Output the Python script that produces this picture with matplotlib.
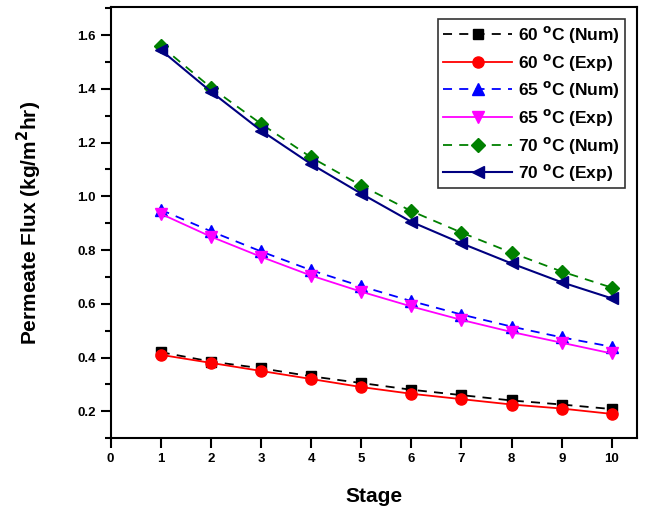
import matplotlib
matplotlib.use('Agg')
import matplotlib.pyplot as plt
from matplotlib.ticker import MultipleLocator

plt.rcParams['font.family'] = ['Liberation Sans', 'DejaVu Sans']
plt.rcParams['font.weight'] = 'bold'

stage = [1, 2, 3, 4, 5, 6, 7, 8, 9, 10]

# flux values
num_60 = [0.42, 0.385, 0.36, 0.33, 0.305, 0.28, 0.26, 0.24, 0.225, 0.208]
exp_60 = [0.41, 0.38, 0.35, 0.32, 0.29, 0.265, 0.245, 0.225, 0.21, 0.19]
num_65 = [0.95, 0.87, 0.795, 0.725, 0.665, 0.61, 0.56, 0.515, 0.475, 0.44]
exp_65 = [0.935, 0.85, 0.775, 0.705, 0.645, 0.59, 0.54, 0.495, 0.455, 0.415]
num_70 = [1.56, 1.405, 1.27, 1.145, 1.04, 0.945, 0.865, 0.79, 0.72, 0.66]
exp_70 = [1.545, 1.39, 1.245, 1.12, 1.01, 0.905, 0.825, 0.75, 0.68, 0.62]

fig = plt.figure(figsize=(6.45, 5.13), dpi=100)
ax = fig.add_axes([0.1715, 0.146, 0.816, 0.8405])

dash = (0, (5, 4))
ax.plot(stage, num_60, linestyle=dash, color='black', marker='s', ms=7, lw=1.3, label='60 $^{\\mathbf{o}}$C (Num)')
ax.plot(stage, exp_60, '-', color='red', marker='o', ms=8, lw=1.3, label='60 $^{\\mathbf{o}}$C (Exp)')
ax.plot(stage, num_65, linestyle=dash, color='blue', marker='^', ms=8, lw=1.3, label='65 $^{\\mathbf{o}}$C (Num)')
ax.plot(stage, exp_65, '-', color='magenta', marker='v', ms=8, lw=1.3, label='65 $^{\\mathbf{o}}$C (Exp)')
ax.plot(stage, num_70, linestyle=dash, color='green', marker='D', ms=7, lw=1.3, label='70 $^{\\mathbf{o}}$C (Num)')
ax.plot(stage, exp_70, '-', color='navy', marker='<', ms=8, lw=1.5, label='70 $^{\\mathbf{o}}$C (Exp)')

ax.set_xlim(0, 10.5)
ax.set_ylim(0.1, 1.705)
ax.xaxis.set_major_locator(MultipleLocator(1))
ax.yaxis.set_minor_locator(MultipleLocator(0.1))
ax.set_yticks([0.2, 0.4, 0.6, 0.8, 1.0, 1.2, 1.4, 1.6])
ax.tick_params(axis='both', which='major', direction='out', length=7, width=1.5, labelsize=9.5)
ax.tick_params(axis='y', which='minor', direction='out', length=4, width=1.5)
for sp in ax.spines.values():
    sp.set_linewidth(1.5)

ax.set_xlabel('Stage', fontsize=15, fontweight='bold', labelpad=16)
ax.set_ylabel('Permeate Flux (kg/m$^{\\mathbf{2}}$hr)', fontsize=15, fontweight='bold', labelpad=24)

leg = ax.legend(loc='upper right', fontsize=12.5, frameon=True, fancybox=False,
                edgecolor='black', handlelength=4.0, handletextpad=0.3, borderpad=0.3,
                labelspacing=0.38, borderaxespad=0.7)
leg.get_frame().set_linewidth(1.2)

fig.savefig('out.png', dpi=100)
